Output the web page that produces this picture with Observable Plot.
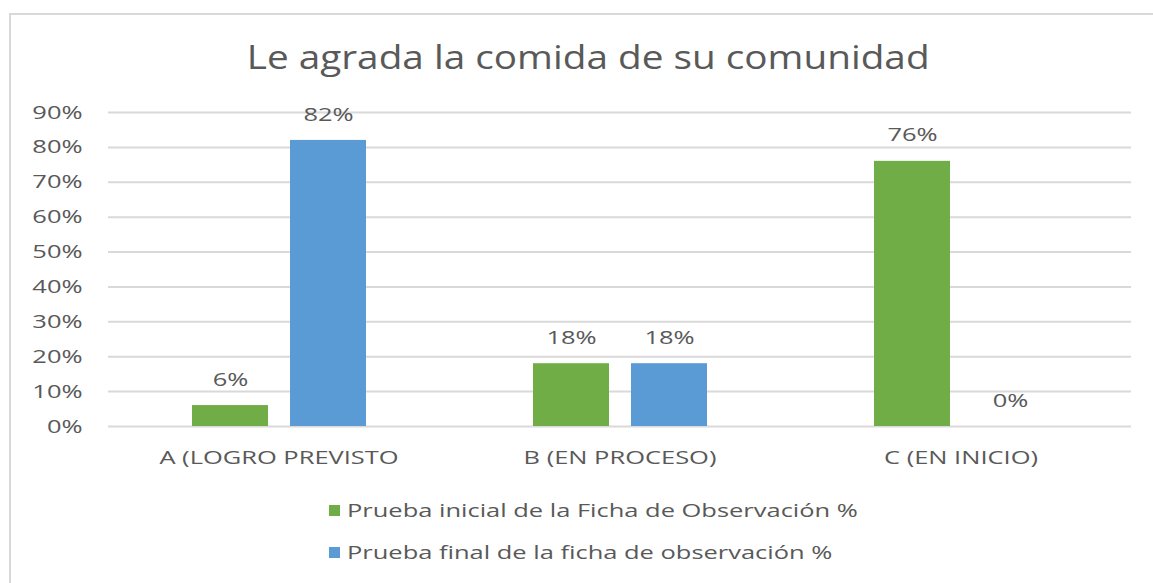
<!DOCTYPE html>
<html>
<head>
<meta charset="utf-8">
<script src="https://cdn.jsdelivr.net/npm/d3@7"></script>
<script src="https://cdn.jsdelivr.net/npm/@observablehq/plot@0.6"></script>
<style>
  body { margin: 0; background: #fff; font-family: "Open Sans", sans-serif; }
  #frame { position: absolute; left: 9px; top: 13px; width: 1160px; height: 600px; border: 2px solid #d9d9d9; box-sizing: border-box; }
  #title { position: absolute; left: 0; width: 1176px; top: 35px; text-align: center; font-size: 32px; color: #595959; }
  #title span { display: inline-block; transform: scaleX(1.21); transform-origin: center; }
  #chart { position: absolute; left: 0; top: 90px; }
  .leg { position: absolute; left: 329px; font-size: 19px; color: #595959; display: flex; align-items: center; }
  .leg span { display: inline-block; transform: scaleX(1.34); transform-origin: left center; white-space: nowrap; }
  .sw { width: 11px; height: 11px; margin-right: 7px; flex: none; }
</style>
</head>
<body>
<div id="frame"></div>
<div id="title"><span>Le agrada la comida de su comunidad</span></div>
<div id="chart"></div>
<div class="leg" style="top:497px"><div class="sw" style="background:#70ad47"></div><span>Prueba inicial de la Ficha de Observación %</span></div>
<div class="leg" style="top:539px"><div class="sw" style="background:#5b9bd5"></div><span>Prueba final de la ficha de observación %</span></div>
<script>
const categories = ["A (LOGRO PREVISTO", "B (EN PROCESO)", "C (EN INICIO)"];
const seriesNames = ["Prueba inicial de la Ficha de Observación %", "Prueba final de la ficha de observación %"];
const inicial = [6, 18, 76];
const final = [82, 18, 0];
const yTicks = [0, 10, 20, 30, 40, 50, 60, 70, 80, 90];
const colors = ["#70ad47", "#5b9bd5"];

const data = [];
categories.forEach((c, i) => {
  data.push({cat: c, serie: seriesNames[0], value: inicial[i]});
  data.push({cat: c, serie: seriesNames[1], value: final[i]});
});

const plot = Plot.plot({
  width: 1153,
  height: 390,
  marginLeft: 107,
  marginRight: 22,
  marginTop: 22,
  marginBottom: 54,
  style: { fontFamily: "Open Sans, sans-serif", fontSize: "18px", color: "#595959", background: "transparent" },
  fx: { domain: categories, padding: 0, label: null },
  x: { domain: seriesNames, paddingInner: 0.2245, paddingOuter: 0.852, axis: null },
  y: { domain: [0, 90], label: null },
  color: { domain: seriesNames, range: colors },
  marks: [
    Plot.ruleY(yTicks, { stroke: "#d9d9d9", strokeWidth: 2 }),
    Plot.barY(data, { fx: "cat", x: "serie", y: "value", fill: "serie" }),
    Plot.text(data, { fx: "cat", x: "serie", y: "value", text: d => d.value + "%", dy: -26, fill: "#595959", fontSize: 19 }),
    Plot.axisY(yTicks, { tickSize: 0, tickPadding: 26, tickFormat: d => d + "%", fontSize: 19, label: null }),
    Plot.axisFx({ anchor: "bottom", tickSize: 0, tickPadding: 24, fontSize: 19, label: null })
  ]
});
document.getElementById("chart").appendChild(plot);
// widen glyphs to match the reference's stretched rendering
plot.querySelectorAll("text").forEach(t => {
  const w = t.getComputedTextLength();
  if (w > 0) {
    t.setAttribute("textLength", (w * 1.34).toFixed(1));
    t.setAttribute("lengthAdjust", "spacingAndGlyphs");
  }
});
</script>
</body>
</html>
